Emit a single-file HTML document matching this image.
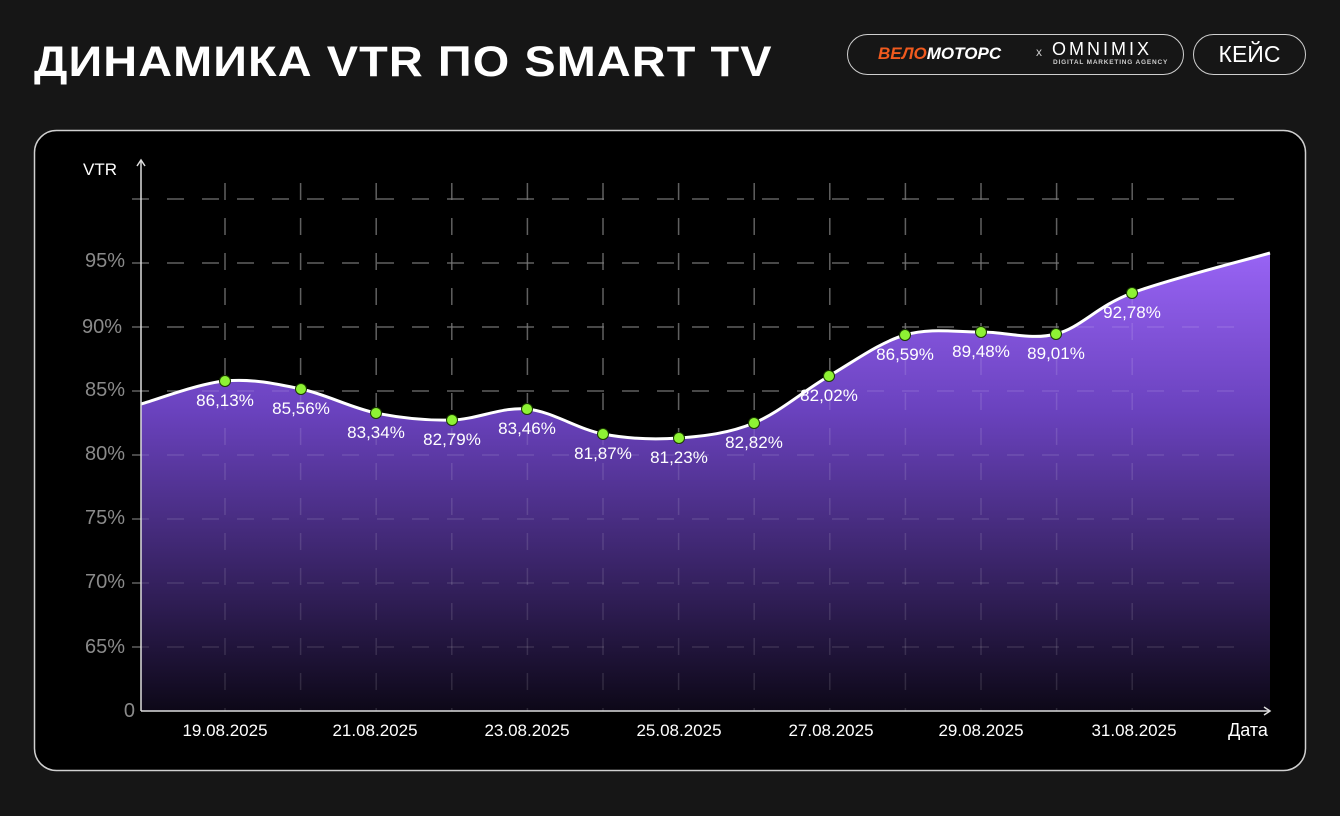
<!DOCTYPE html>
<html><head><meta charset="utf-8"><style>
body{margin:0;width:1340px;height:816px;background:#161616;overflow:hidden;font-family:"Liberation Sans",sans-serif;}
.t{position:absolute;left:34px;top:38px;color:#fff;font-size:43px;font-weight:bold;letter-spacing:1px;transform:scaleX(1.09);transform-origin:0 0;}
.pill{position:absolute;border:1.5px solid #cfcfcf;border-radius:22px;box-sizing:border-box;}
</style></head><body>
<div class="t">ДИНАМИКА VTR ПО SMART TV</div>
<div class="pill" style="left:847px;top:34px;width:337px;height:41px;">
 <span style="position:absolute;left:30px;top:9px;color:#f05a1e;font-weight:bold;font-style:italic;font-size:17px;">ВЕЛО<span style="color:#fff">МОТОРС</span></span>
 <span style="position:absolute;left:188px;top:10px;color:#ccc;font-size:12px;">x</span>
 <span style="position:absolute;left:204px;top:4px;color:#fff;font-size:18px;letter-spacing:3px;">OMNIMIX</span>
 <span style="position:absolute;left:205px;top:24px;color:#ccc;font-size:6.5px;letter-spacing:0.8px;font-weight:bold;">DIGITAL MARKETING AGENCY</span>
</div>
<div class="pill" style="left:1193px;top:34px;width:113px;height:41px;color:#fff;font-size:23px;text-align:center;line-height:38px;">КЕЙС</div>
<svg width="1340" height="816" style="position:absolute;left:0;top:0" id="s">
<defs><linearGradient id="g" x1="0" y1="250" x2="0" y2="711" gradientUnits="userSpaceOnUse">
<stop offset="0" stop-color="#9964f5"/><stop offset="0.35" stop-color="#6a42be"/><stop offset="1" stop-color="#0d0818"/></linearGradient></defs>
<rect x="34.5" y="130.5" width="1271" height="640" rx="22" fill="#000" stroke="#d0d0d0" stroke-width="1.5"/>
<g id="grid" stroke="#4a4a4a" stroke-width="1.5" stroke-dasharray="17 18"></g>
<g id="fill"></g>
<g id="grid2" stroke="#ffffff" stroke-opacity="0.12" stroke-width="1.5" stroke-dasharray="17 18"></g>
<g id="line"></g>
<line x1="141" y1="160" x2="141" y2="711" stroke="#ddd" stroke-width="1.5"/>
<path d="M137 166 L141 160 L145 166" fill="none" stroke="#ddd" stroke-width="1.5"/>
<line x1="141" y1="711" x2="1270" y2="711" stroke="#ddd" stroke-width="1.5"/>
<path d="M1264 707 L1270 711 L1264 715" fill="none" stroke="#ddd" stroke-width="1.5"/>
<g font-family="Liberation Sans" font-size="20" fill="#8a8a8a" text-anchor="end">
<text x="125" y="267">95%</text><text x="122" y="333">90%</text><text x="125" y="396">85%</text><text x="125" y="460">80%</text><text x="125" y="524">75%</text><text x="125" y="588">70%</text><text x="125" y="653">65%</text><text x="135" y="717">0</text></g>
<text x="83" y="175" font-size="17" fill="#fff" font-family="Liberation Sans">VTR</text>
<g font-family="Liberation Sans" font-size="17" fill="#fff" text-anchor="middle">
<text x="225" y="736">19.08.2025</text><text x="375" y="736">21.08.2025</text><text x="527" y="736">23.08.2025</text><text x="679" y="736">25.08.2025</text><text x="831" y="736">27.08.2025</text><text x="981" y="736">29.08.2025</text><text x="1134" y="736">31.08.2025</text><text x="1248" y="736" font-size="18">Дата</text></g>
<g id="pts"></g>
</svg>
<script>
var P=[[141,404],[225,381],[301,389],[376,413],[452,420],[527,409],[603,434],[679,438],[754,423],[829,376],[905,335],[981,332],[1056,334],[1132,293],[1270,253]];
var L=["86,13%","85,56%","83,34%","82,79%","83,46%","81,87%","81,23%","82,82%","82,02%","86,59%","89,48%","89,01%","92,78%"];
var d="M"+P[0];
for(var i=0;i<P.length-1;i++){var p0=P[Math.max(0,i-1)],p1=P[i],p2=P[i+1],p3=P[Math.min(P.length-1,i+2)];var t=6;
d+=" C"+(p1[0]+(p2[0]-p0[0])/t)+","+(p1[1]+(p2[1]-p0[1])/t)+" "+(p2[0]-(p3[0]-p1[0])/t)+","+(p2[1]-(p3[1]-p1[1])/t)+" "+p2[0]+","+p2[1];}
var ns="http://www.w3.org/2000/svg";
function el(n,a,par){var e=document.createElementNS(ns,n);for(var k in a)e.setAttribute(k,a[k]);document.getElementById(par).appendChild(e);return e;}
el("path",{d:d+" L1270,711 L141,711 Z",fill:"url(#g)"},"fill");
["grid","grid2"].forEach(function(g){
[199,263,327,391,455,519,583,647].forEach(function(y){el("line",{x1:132,y1:y,x2:1235,y2:y},g);});
for(var i=0;i<13;i++){var x=225+i*75.6;el("line",{x1:x,y1:183,x2:x,y2:711},g);}});
el("path",{d:d,fill:"none",stroke:"#fff","stroke-width":3},"line");
for(var i=1;i<14;i++){el("circle",{cx:P[i][0],cy:P[i][1],r:5.5,fill:"#8ef234",stroke:"#1a3a00","stroke-width":1},"pts");
var tx=el("text",{x:P[i][0],y:P[i][1]+25,"font-family":"Liberation Sans","font-size":17,fill:"#fff","text-anchor":"middle"},"pts");tx.textContent=L[i-1];}
</script>
</body></html>
